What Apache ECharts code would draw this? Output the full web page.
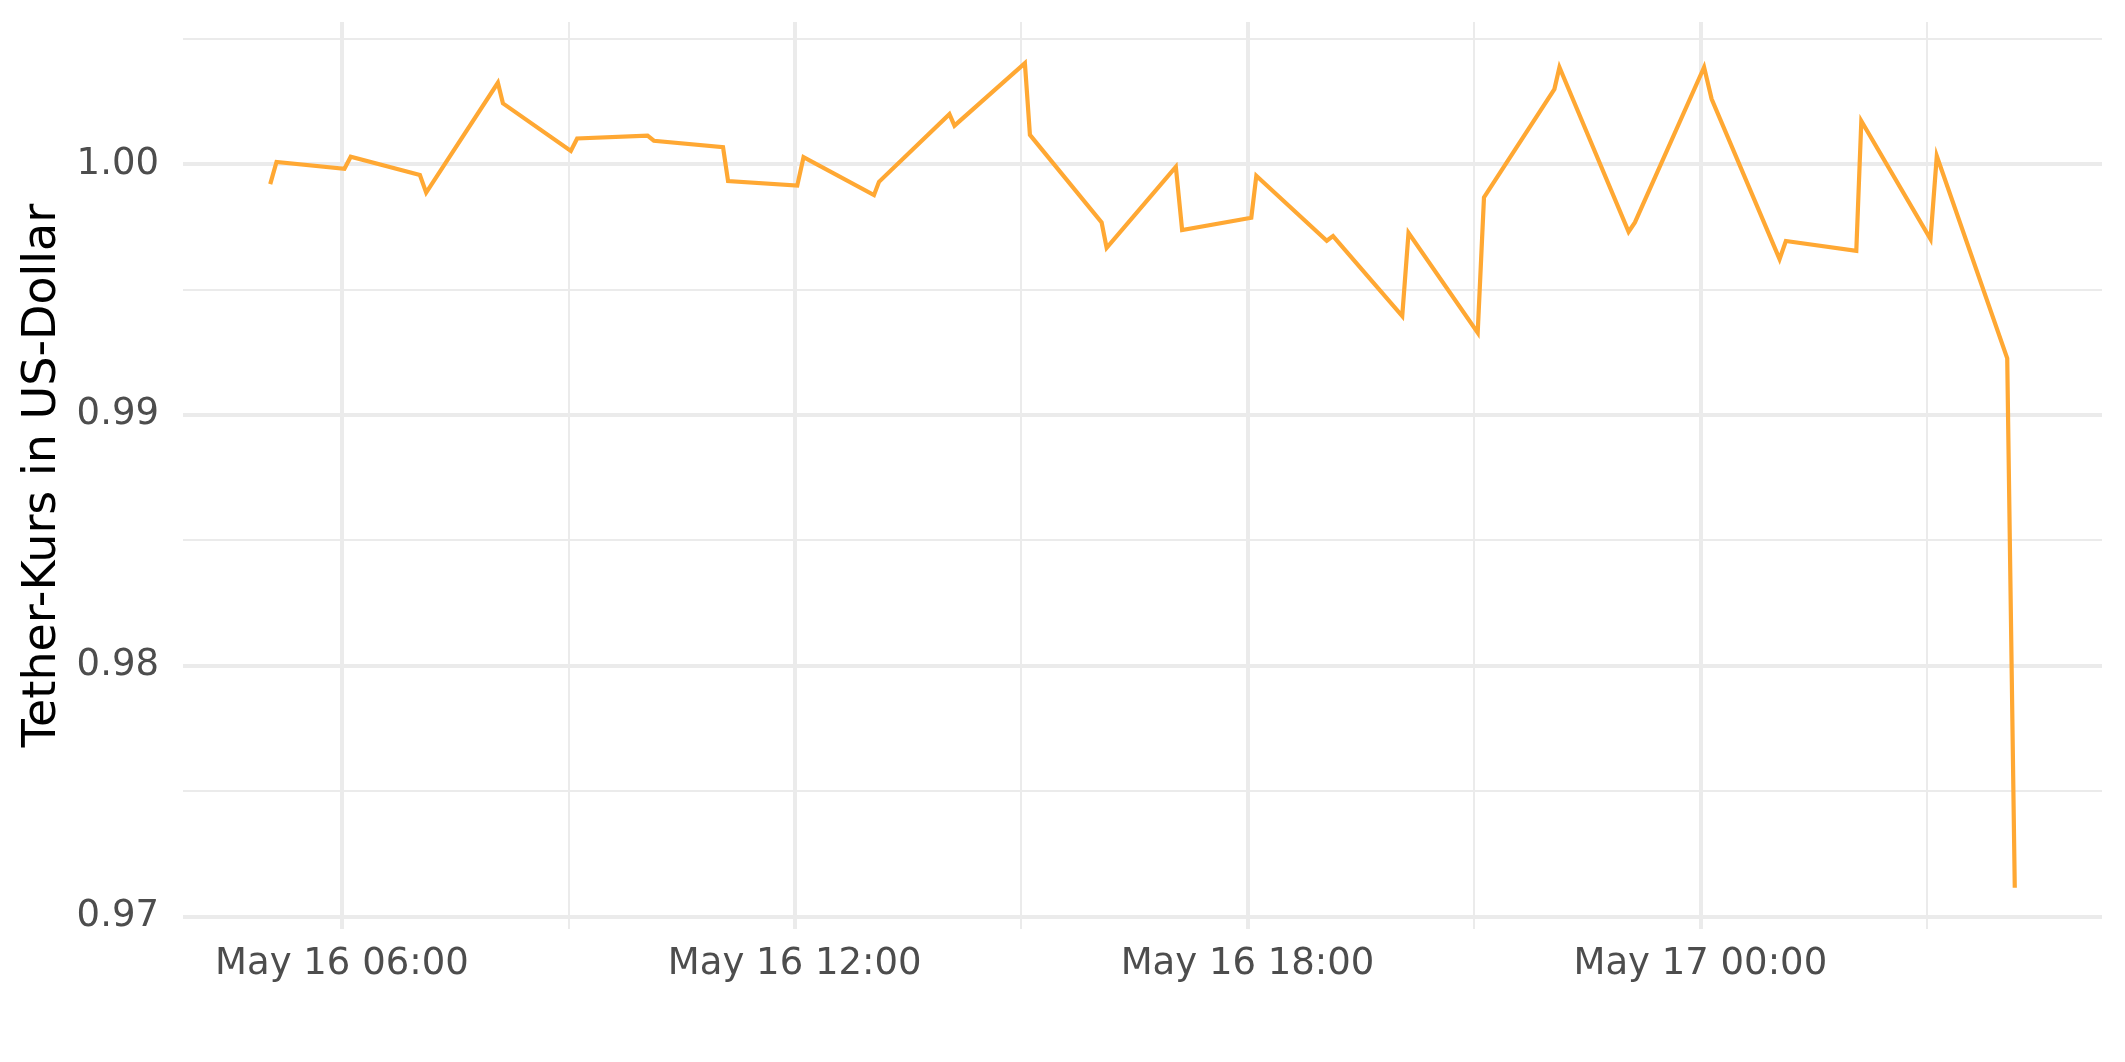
<!DOCTYPE html>
<html>
<head>
<meta charset="utf-8">
<script src="https://cdn.jsdelivr.net/npm/echarts@6/dist/echarts.min.js"></script>
<style>
html,body{margin:0;padding:0;background:#fff;}
#chart{width:2125px;height:1062px;}
</style>
</head>
<body>
<div id="chart"></div>
<script>
// ---- data ----
const times = [
  '2022-05-16 05:03','2022-05-16 05:08','2022-05-16 06:02','2022-05-16 06:07',
  '2022-05-16 07:02','2022-05-16 07:07','2022-05-16 08:04','2022-05-16 08:08',
  '2022-05-16 09:02','2022-05-16 09:07','2022-05-16 10:03','2022-05-16 10:08',
  '2022-05-16 11:03','2022-05-16 11:07','2022-05-16 12:02','2022-05-16 12:07',
  '2022-05-16 13:03','2022-05-16 13:07','2022-05-16 14:03','2022-05-16 14:07',
  '2022-05-16 15:03','2022-05-16 15:07','2022-05-16 16:04','2022-05-16 16:08',
  '2022-05-16 17:03','2022-05-16 17:08','2022-05-16 18:03','2022-05-16 18:07',
  '2022-05-16 19:03','2022-05-16 19:08','2022-05-16 20:03','2022-05-16 20:08',
  '2022-05-16 21:03','2022-05-16 21:08','2022-05-16 22:04','2022-05-16 22:08',
  '2022-05-16 23:03','2022-05-16 23:08','2022-05-17 00:03','2022-05-17 00:09',
  '2022-05-17 01:03','2022-05-17 01:08','2022-05-17 02:04','2022-05-17 02:08',
  '2022-05-17 03:03','2022-05-17 03:08','2022-05-17 04:04','2022-05-17 04:10'
];
const values = [
  0.99920, 1.00008, 0.99981, 1.00029,
  0.99956, 0.99886, 1.00324, 1.00242,
  1.00052, 1.00102, 1.00113, 1.00093,
  1.00067, 0.99932, 0.99914, 1.00027,
  0.99876, 0.99929, 1.00199, 1.00153,
  1.00402, 1.00116, 0.99767, 0.99666,
  0.99989, 0.99737, 0.99786, 0.99953,
  0.99694, 0.99713, 0.99394, 0.99726,
  0.99327, 0.99867, 1.00299, 1.00386,
  0.99730, 0.99767, 1.00386, 1.00259,
  0.99621, 0.99693, 0.99654, 1.00172,
  0.99701, 1.00032, 0.99225, 0.97114
];
const yMajorTicks = [0.97, 0.98, 0.99, 1.00];
const yMinorTicks = [0.975, 0.985, 0.995, 1.005];
const xMajorTicks = ['2022-05-16 06:00','2022-05-16 12:00','2022-05-16 18:00','2022-05-17 00:00'];
const xMinorTicks = ['2022-05-16 09:00','2022-05-16 15:00','2022-05-16 21:00','2022-05-17 03:00'];
const yTitle = 'Tether-Kurs in US-Dollar';
const monthNames = ['Jan','Feb','Mar','Apr','May','Jun','Jul','Aug','Sep','Oct','Nov','Dec'];

// ---- helpers ----
function toMs(s){
  const [d,t] = s.split(' ');
  const [Y,M,D] = d.split('-').map(Number);
  const [h,m] = t.split(':').map(Number);
  return Date.UTC(Y, M-1, D, h, m);
}
function pad(n){ return (n<10?'0':'') + n; }
function fmtTime(v){
  const d = new Date(v);
  return monthNames[d.getUTCMonth()] + ' ' + d.getUTCDate() + ' ' + pad(d.getUTCHours()) + ':' + pad(d.getUTCMinutes());
}

const tMs = times.map(toMs);
const seriesData = tMs.map((t,i)=>[t, values[i]]);
const tMin = Math.min(...tMs), tMax = Math.max(...tMs);
const vMin = Math.min(...values), vMax = Math.max(...values);
const xPad = (tMax - tMin) * 0.05, yPad = (vMax - vMin) * 0.05;
const xLo = tMin - xPad, xHi = tMax + xPad;
const yLo = vMin - yPad, yHi = vMax + yPad;

const FONT = 'DejaVu Sans';
const GRIDC = '#EBEBEB';

const chart = echarts.init(document.getElementById('chart'), null, {renderer:'canvas'});
chart.setOption({
  backgroundColor: '#ffffff',
  animation: false,
  grid: { left: 183, right: 23, top: 22, bottom: 133, containLabel: false },
  xAxis: [
    {
      type: 'value', min: xLo, max: xHi,
      axisLine: { show: false },
      axisTick: { show: false, customValues: xMajorTicks.map(toMs) },
      axisLabel: {
        customValues: xMajorTicks.map(toMs),
        formatter: (v)=>fmtTime(v),
        fontFamily: FONT, fontSize: 37, color: '#4D4D4D', margin: 17,
        hideOverlap: false
      },
      splitLine: { show: true, lineStyle: { color: GRIDC, width: 4 } }
    },
    {
      type: 'value', min: xLo, max: xHi, position: 'bottom',
      axisLine: { show: false },
      axisTick: { show: false, customValues: xMinorTicks.map(toMs) },
      axisLabel: { show: false, customValues: xMinorTicks.map(toMs) },
      splitLine: { show: true, lineStyle: { color: GRIDC, width: 2 } }
    }
  ],
  yAxis: [
    {
      type: 'value', min: yLo, max: yHi,
      axisLine: { show: false },
      axisTick: { show: false, customValues: yMajorTicks },
      axisLabel: {
        customValues: yMajorTicks,
        formatter: (v)=>v.toFixed(2),
        fontFamily: FONT, fontSize: 37, color: '#4D4D4D', margin: 24
      },
      splitLine: { show: true, lineStyle: { color: GRIDC, width: 4 } },
      name: yTitle, nameLocation: 'middle', nameRotate: 90, nameGap: 117,
      nameTextStyle: { fontFamily: FONT, fontSize: 46, color: '#000000' }
    },
    {
      type: 'value', min: yLo, max: yHi, position: 'left',
      axisLine: { show: false },
      axisTick: { show: false, customValues: yMinorTicks },
      axisLabel: { show: false, customValues: yMinorTicks },
      splitLine: { show: true, lineStyle: { color: GRIDC, width: 2 } }
    }
  ],
  series: [
    {
      type: 'line', xAxisIndex: 0, yAxisIndex: 0,
      data: seriesData, showSymbol: false, symbol: 'none',
      lineStyle: { color: '#FFA833', width: 4.2, join: 'miter' },
      z: 5
    }
  ]
});
</script>
</body>
</html>
